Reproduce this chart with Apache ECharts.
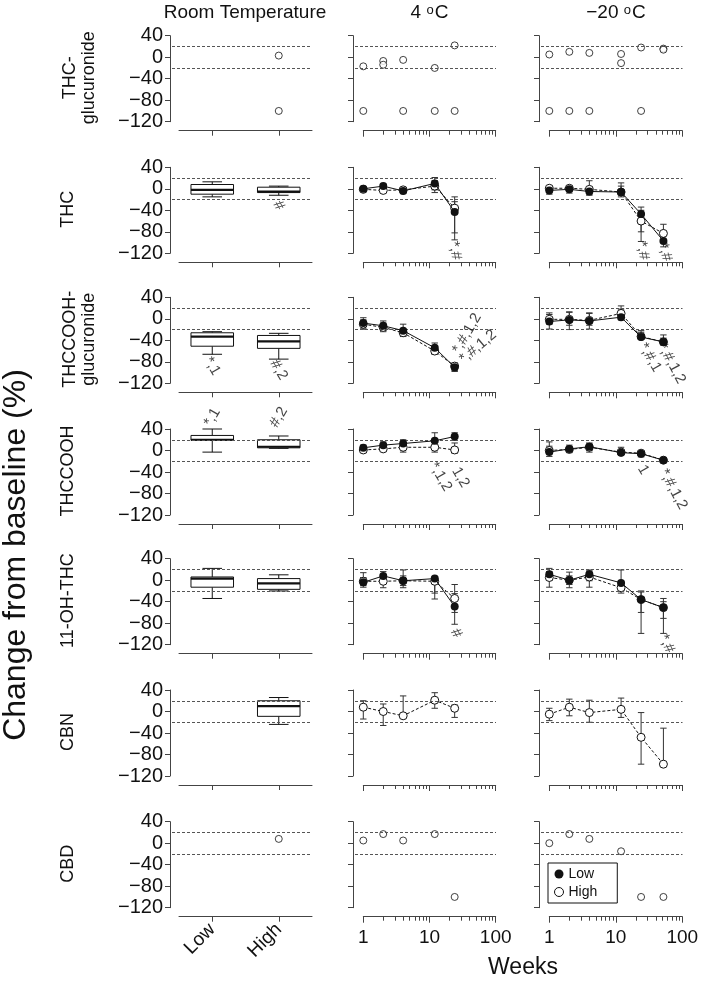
<!DOCTYPE html>
<html><head><meta charset="utf-8">
<script src="https://cdn.jsdelivr.net/npm/echarts@6/dist/echarts.min.js"></script>
<style>html,body{margin:0;padding:0;background:#fff}#c{width:702px;height:982px}</style>
</head><body><div id="c"></div>
<script>
// ---------------- DATA ----------------
const rowNames = ['THC-\nglucuronide', 'THC', 'THCCOOH-\nglucuronide', 'THCCOOH', '11-OH-THC', 'CBN', 'CBD'];
const colTitles = ['Room Temperature', '4 {s|o}C', '\u221220 {s|o}C'];
const boxCats = ['Low', 'High'];
const weeks4C = [1, 2, 4, 12, 24];
const weeksM20 = [1, 2, 4, 12, 24, 52];
const limitLines = [20, -20];
const minorTickWeeks = [2, 3, 4, 5, 6, 7, 8, 9, 20, 30, 40, 50, 60, 70, 80, 90];

// Room temperature boxplots: [min, Q1, median, Q3, max]
const rtLowBox  = [null, [-15, -10, -2, 8, 13], [-66, -51, -33, -26, -24], [-3, 19, 20, 28, 40], [-34, -13, 3, 6, 22], null, null];
const rtHighBox = [null, [-12, -7, -5, 3, 5], [-75, -55, -42, -31, -27], [4, 5, 7, 20, 27], [-20, -17, -6, 3, 10], [-24, -9, 10, 20, 26], null];
const rtHighSingle = [[3, -100], null, null, null, null, null, [8]];

// Individual values (THC-glucuronide, CBD)
const glucWeeks4C = [1, 1, 2, 2, 4, 4, 12, 12, 24, 24];
const glucVals4C  = [-17, -100, -7, -14, -5, -100, -20, -100, 22, -100];
const glucWeeksM20 = [1, 1, 2, 2, 4, 4, 12, 12, 24, 24, 52, 52];
const glucValsM20  = [5, -100, 10, -100, 8, -100, 6, -11, 18, -100, 16, 14];
const cbdWeeks4C = [1, 2, 4, 12, 24];
const cbdVals4C  = [5, 17, 5, 17, -100];
const cbdWeeksM20 = [1, 2, 4, 12, 24, 52];
const cbdValsM20  = [0, 17, 8, -15, -100, -100];

// Means and [lower, upper] error limits
const thcLow4C = [0, 5, -4, 10, -43];
const thcLowErr4C = [[-3, 3], [1, 9], [-9, 1], [-2, 21], [-95, -15]];
const thcHigh4C = [-1, -3, -2, 5, -36];
const thcHighErr4C = [[-4, 3], [-7, 1], [-6, 2], [-7, 15], [-82, -24]];
const thcLowM20 = [-3, -1, -5, -6, -47, -97];
const thcLowErrM20 = [[-10, 4], [-8, 4], [-10, 4], [-15, 11], [-80, -34], [-108, -86]];
const thcHighM20 = [1, 1, -1, -6, -60, -83];
const thcHighErrM20 = [[-5, 5], [-4, 6], [-12, 15], [-12, 5], [-98, -40], [-100, -66]];

const gcLow4C = [-8, -13, -22, -54, -90];
const gcLowErr4C = [[-19, 2], [-24, -4], [-32, -10], [-65, -45], [-98, -83]];
const gcHigh4C = [-10, -16, -26, -60, -88];
const gcHighErr4C = [[-19, -2], [-22, -8], [-33, -18], [-66, -52], [-96, -82]];
const gcLowM20 = [-5, -2, -4, 3, -34, -43];
const gcLowErrM20 = [[-19, 11], [-20, 13], [-19, 11], [-2, 18], [-38, -22], [-49, -30]];
const gcHighM20 = [-1, -1, -3, 10, -33, -43];
const gcHighErrM20 = [[-10, 8], [-12, 12], [-12, 10], [0, 24], [-37, -25], [-48, -36]];

const cooLow4C = [5, 10, 13, 18, 26];
const cooLowErr4C = [[0, 10], [4, 16], [6, 20], [8, 33], [19, 33]];
const cooHigh4C = [1, 3, 6, 6, 1];
const cooHighErr4C = [[-4, 6], [-2, 8], [-3, 14], [-3, 15], [-5, 14]];
const cooLowM20 = [-3, 3, 7, -4, -6, -18];
const cooLowErrM20 = [[-11, 8], [-4, 10], [-3, 14], [-8, 6], [-12, 0], [-21, -15]];
const cooHighM20 = [0, 2, 6, -3, -5, -18];
const cooHighErrM20 = [[-6, 16], [-2, 6], [0, 12], [-6, 2], [-10, -2], [-20, -16]];

const ohLow4C = [-4, 8, -1, 3, -49];
const ohLowErr4C = [[-13, 5], [2, 16], [-14, 19], [-24, 6], [-82, -25]];
const ohHigh4C = [-2, -2, -1, -2, -34];
const ohHighErr4C = [[-10, 14], [-14, 5], [-10, 8], [-35, 5], [-60, -8]];
const ohLowM20 = [11, 0, 11, -5, -36, -51];
const ohLowErrM20 = [[0, 22], [-14, 15], [-1, 19], [-24, 19], [-99, -20], [-99, -34]];
const ohHighM20 = [5, 0, 6, -14, -36, -51];
const ohHighErrM20 = [[-13, 16], [-8, 8], [-13, 17], [-20, -6], [-60, -22], [-71, -40]];

const cbnHigh4C = [8, 0, -8, 21, 6];
const cbnHighErr4C = [[-14, 20], [-26, 14], [-10, 29], [6, 35], [-11, 12]];
const cbnHighM20 = [-5, 8, -2, 4, -48, -98];
const cbnHighErrM20 = [[-17, 6], [-8, 23], [-20, 21], [-11, 25], [-98, -2], [-98, -31]];

// significance annotations: [row, col, x, y, text, rotation]
const notes = [
  [1, 0, 1, -31, '#', -60],
  [2, 0, 0, -88, '*,1', -60],
  [2, 0, 1, -95, '#,2', -60],
  [3, 0, 0, 62, '*,1', 60],
  [3, 0, 1, 62, '#,2', 60],
  [1, 1, 24.3, -115, '*,#', -80],
  [2, 1, 36.8, -27, '*,#,1,2', 60],
  [2, 1, 54, -52, '*,#,1,2', 40],
  [3, 1, 14.7, -49, '*,1,2', -60],
  [3, 1, 29.4, -50, '1,2', -60],
  [4, 1, 25.2, -99, '#', -60],
  [1, 2, 25.4, -115, '*,#', -80],
  [1, 2, 55, -118, '*,#', -75],
  [2, 2, 32.7, -72, '*,#,1', -60],
  [2, 2, 69.3, -83, '*,#,1,2', -62],
  [3, 2, 25.9, -36, '1', -60],
  [3, 2, 73.2, -72, '*,#,1,2', -62],
  [4, 2, 58.3, -118, '*,#', -65]
];

const summary = {
  1: [{low: thcLow4C, lowErr: thcLowErr4C, high: thcHigh4C, highErr: thcHighErr4C},
      {low: thcLowM20, lowErr: thcLowErrM20, high: thcHighM20, highErr: thcHighErrM20}],
  2: [{low: gcLow4C, lowErr: gcLowErr4C, high: gcHigh4C, highErr: gcHighErr4C},
      {low: gcLowM20, lowErr: gcLowErrM20, high: gcHighM20, highErr: gcHighErrM20}],
  3: [{low: cooLow4C, lowErr: cooLowErr4C, high: cooHigh4C, highErr: cooHighErr4C},
      {low: cooLowM20, lowErr: cooLowErrM20, high: cooHighM20, highErr: cooHighErrM20}],
  4: [{low: ohLow4C, lowErr: ohLowErr4C, high: ohHigh4C, highErr: ohHighErr4C},
      {low: ohLowM20, lowErr: ohLowErrM20, high: ohHighM20, highErr: ohHighErrM20}],
  5: [{low: null, high: cbnHigh4C, highErr: cbnHighErr4C},
      {low: null, high: cbnHighM20, highErr: cbnHighErrM20}]
};
const singles = {
  0: [[glucWeeks4C, glucVals4C], [glucWeeksM20, glucValsM20]],
  6: [[cbdWeeks4C, cbdVals4C], [cbdWeeksM20, cbdValsM20]]
};

// ---------------- LAYOUT / STYLE ----------------
const FONT = '"Liberation Sans", Arial, Helvetica, sans-serif';
const INK = '#111';
const AXC = '#444';
const rowTop = [35.7, 167.3, 297.3, 429, 558.7, 690, 821.7];
const PH = 86;
const colA = [[172, 312], [355, 496], [541, 682.5]];
const colB = [[179, 312], [363.3, 495.7], [549.3, 682.3]];

const grids = [], xAxis = [], yAxis = [], series = [], graphic = [];
const fmtY = v => String(v).replace('-', '\u2212');

function renderBox(params, api) {
  const x = api.value(0);
  const p = [1, 2, 3, 4, 5].map(i => api.coord([x, api.value(i)]));
  const bw = api.size([1, 0])[0] * 0.64;
  const cw = bw * 0.46;
  const cx = p[2][0];
  const st = {stroke: INK, lineWidth: 1, fill: null};
  return {type: 'group', children: [
    {type: 'line', shape: {x1: cx, y1: p[4][1], x2: cx, y2: p[3][1]}, style: st},
    {type: 'line', shape: {x1: cx, y1: p[1][1], x2: cx, y2: p[0][1]}, style: st},
    {type: 'line', shape: {x1: cx - cw / 2, y1: p[4][1], x2: cx + cw / 2, y2: p[4][1]}, style: st},
    {type: 'line', shape: {x1: cx - cw / 2, y1: p[0][1], x2: cx + cw / 2, y2: p[0][1]}, style: st},
    {type: 'rect', shape: {x: cx - bw / 2, y: p[3][1], width: bw, height: p[1][1] - p[3][1]}, style: {stroke: INK, fill: '#fff', lineWidth: 1}},
    {type: 'line', shape: {x1: cx - bw / 2, y1: p[2][1], x2: cx + bw / 2, y2: p[2][1]}, style: {stroke: INK, lineWidth: 2.2}}
  ]};
}
function renderErr(params, api) {
  const x = api.value(0);
  const a = api.coord([x, api.value(2)]), b = api.coord([x, api.value(1)]);
  const w = 3.2;
  const st = {stroke: '#333', lineWidth: 1};
  return {type: 'group', children: [
    {type: 'line', shape: {x1: a[0], y1: a[1], x2: b[0], y2: b[1]}, style: st},
    {type: 'line', shape: {x1: a[0] - w, y1: a[1], x2: a[0] + w, y2: a[1]}, style: st},
    {type: 'line', shape: {x1: b[0] - w, y1: b[1], x2: b[0] + w, y2: b[1]}, style: st}
  ]};
}
const openCircle = {color: '#fff', borderColor: INK, borderWidth: 1};

for (let r = 0; r < 7; r++) {
  for (let c = 0; c < 3; c++) {
    const top = rowTop[r];
    const last = r === 6;
    // grid A : y axis + reference lines
    grids.push({left: colA[c][0], top: top, width: colA[c][1] - colA[c][0], height: PH});
    let gi = grids.length - 1;
    xAxis.push({gridIndex: gi, type: 'value', min: 0, max: 1, show: false});
    yAxis.push({gridIndex: gi, type: 'value', min: -120, max: 40, interval: 40, offset: 2,
      axisLine: {show: true, onZero: false, lineStyle: {color: AXC, width: 1}},
      axisTick: {show: true, length: 5, lineStyle: {color: AXC}},
      axisLabel: {show: c === 0, fontSize: 20, color: INK, margin: 7, fontFamily: FONT, formatter: fmtY},
      splitLine: {show: false}});
    series.push({type: 'line', xAxisIndex: xAxis.length - 1, yAxisIndex: yAxis.length - 1, data: [], silent: true, z: 1,
      markLine: {silent: true, symbol: 'none', animation: false, label: {show: false},
        lineStyle: {type: [3, 2], color: '#555', width: 1},
        data: limitLines.map(v => ({yAxis: v}))}});
    // grid B : data + x axis
    grids.push({left: colB[c][0], top: top, width: colB[c][1] - colB[c][0], height: PH});
    gi = grids.length - 1;
    const xb = xAxis.length;
    if (c === 0) {
      xAxis.push({gridIndex: gi, type: 'category', data: boxCats, position: 'bottom', offset: 9,
        axisLine: {show: true, onZero: false, lineStyle: {color: AXC}},
        axisTick: {show: true, alignWithLabel: true, length: 5, lineStyle: {color: AXC}},
        axisLabel: {show: last, rotate: 45, fontSize: 19, color: INK, margin: 10, fontFamily: FONT}});
    } else {
      xAxis.push({gridIndex: gi, type: 'log', logBase: 10, min: 1, max: 100, position: 'bottom', offset: 9,
        axisLine: {show: true, onZero: false, lineStyle: {color: AXC}},
        axisTick: {show: true, length: 6, lineStyle: {color: AXC}},
        axisLabel: {show: last, fontSize: 19, color: INK, margin: 12, fontFamily: FONT},
        splitLine: {show: false}});
      xAxis.push({gridIndex: gi, type: 'log', logBase: 10, min: 1, max: 100, position: 'bottom', offset: 9,
        axisLine: {show: false, onZero: false},
        axisTick: {show: true, length: 4, customValues: minorTickWeeks, lineStyle: {color: AXC}},
        axisLabel: {show: false}, splitLine: {show: false}});
    }
    yAxis.push({gridIndex: gi, type: 'value', min: -120, max: 40, show: false});
    const yb = yAxis.length - 1;

    if (c === 0) {
      const boxes = [];
      if (rtLowBox[r]) boxes.push([0].concat(rtLowBox[r]));
      if (rtHighBox[r]) boxes.push([1].concat(rtHighBox[r]));
      if (boxes.length) series.push({type: 'custom', xAxisIndex: xb, yAxisIndex: yb, renderItem: renderBox,
        encode: {x: 0, y: [1, 2, 3, 4, 5]}, data: boxes, z: 3, clip: false, silent: true});
      if (rtHighSingle[r]) series.push({type: 'scatter', name: 'pts', xAxisIndex: xb, yAxisIndex: yb,
        data: rtHighSingle[r].map(v => [1, v]), symbol: 'circle', symbolSize: 7, itemStyle: openCircle, z: 4, clip: false});
    } else {
      const k = c - 1;
      const weeks = c === 1 ? weeks4C : weeksM20;
      if (summary[r]) {
        const s = summary[r][k];
        series.push({type: 'custom', xAxisIndex: xb, yAxisIndex: yb, renderItem: renderErr, encode: {x: 0, y: [1, 2]},
          data: weeks.map((w, i) => [w, s.highErr[i][0], s.highErr[i][1]]), z: 2, clip: false, silent: true});
        if (s.low) series.push({type: 'custom', xAxisIndex: xb, yAxisIndex: yb, renderItem: renderErr, encode: {x: 0, y: [1, 2]},
          data: weeks.map((w, i) => [w, s.lowErr[i][0], s.lowErr[i][1]]), z: 2, clip: false, silent: true});
        series.push({type: 'line', name: 'High', xAxisIndex: xb, yAxisIndex: yb, data: weeks.map((w, i) => [w, s.high[i]]),
          symbol: 'circle', symbolSize: 8, itemStyle: openCircle, lineStyle: {color: INK, width: 1, type: [3, 2]}, z: 4, clip: false});
        if (s.low) series.push({type: 'line', name: 'Low', xAxisIndex: xb, yAxisIndex: yb, data: weeks.map((w, i) => [w, s.low[i]]),
          symbol: 'circle', symbolSize: 8, itemStyle: {color: INK}, lineStyle: {color: INK, width: 1}, z: 5, clip: false});
      }
      if (singles[r]) {
        const sg = singles[r][k];
        series.push({type: 'scatter', name: 'pts', xAxisIndex: xb, yAxisIndex: yb,
          data: sg[0].map((w, i) => [w, sg[1][i]]), symbol: 'circle', symbolSize: 7, itemStyle: openCircle, z: 4, clip: false});
      }
    }
    const nts = notes.filter(n => n[0] === r && n[1] === c);
    if (nts.length) series.push({type: 'scatter', name: 'notes', xAxisIndex: xb, yAxisIndex: yb, symbolSize: 0, clip: false, silent: true, z: 6,
      data: nts.map(n => ({value: [n[2], n[3]], label: {show: true, formatter: n[4], rotate: n[5], position: 'inside',
        align: 'center', verticalAlign: 'middle', fontSize: 15, color: INK, fontFamily: FONT}}))});
  }
  // row label
  const twoLine = rowNames[r].indexOf('\n') >= 0;
  graphic.push({type: 'text', x: twoLine ? 80 : 68, y: rowTop[r] + 42, rotation: Math.PI / 2,
    style: {text: rowNames[r], fontSize: 18, fontFamily: FONT, fill: INK, lineHeight: 19,
      align: 'center', verticalAlign: 'middle', textAlign: 'center', textVerticalAlign: 'middle'}});
}
// column titles
const titleX = [245, 429.5, 616];
colTitles.forEach((t, i) => graphic.push({type: 'text', x: titleX[i], y: 13,
  style: {text: t, fontSize: 19, fontFamily: FONT, fill: INK, align: 'center', verticalAlign: 'middle',
    textAlign: 'center', textVerticalAlign: 'middle', rich: {s: {fontSize: 13, fontFamily: FONT, verticalAlign: 'top', lineHeight: 14, padding: [0, 1, 6, 0]}}}}));
graphic.push({type: 'text', x: 16, y: 555, rotation: Math.PI / 2,
  style: {text: 'Change from baseline (%)', fontSize: 32, fontFamily: FONT, fill: INK, align: 'center', verticalAlign: 'middle', textAlign: 'center', textVerticalAlign: 'middle'}});
graphic.push({type: 'text', x: 523, y: 968,
  style: {text: 'Weeks', fontSize: 23, fontFamily: FONT, fill: INK, align: 'center', verticalAlign: 'middle', textAlign: 'center', textVerticalAlign: 'middle'}});

const chart = echarts.init(document.getElementById('c'), null, {renderer: 'canvas'});
chart.setOption({
  animation: false,
  backgroundColor: '#fff',
  textStyle: {fontFamily: FONT},
  grid: grids, xAxis: xAxis, yAxis: yAxis, series: series, graphic: graphic,
  legend: {left: 548, top: 863, orient: 'vertical', selectedMode: false,
    data: [{name: 'Low', icon: 'circle', itemStyle: {color: INK}}, {name: 'High', icon: 'circle', itemStyle: openCircle}],
    itemWidth: 9, itemHeight: 9, itemGap: 4, padding: [4, 20, 4, 6], borderColor: INK, borderWidth: 1,
    textStyle: {fontSize: 14, color: INK, fontFamily: FONT}}
});
</script></body></html>
